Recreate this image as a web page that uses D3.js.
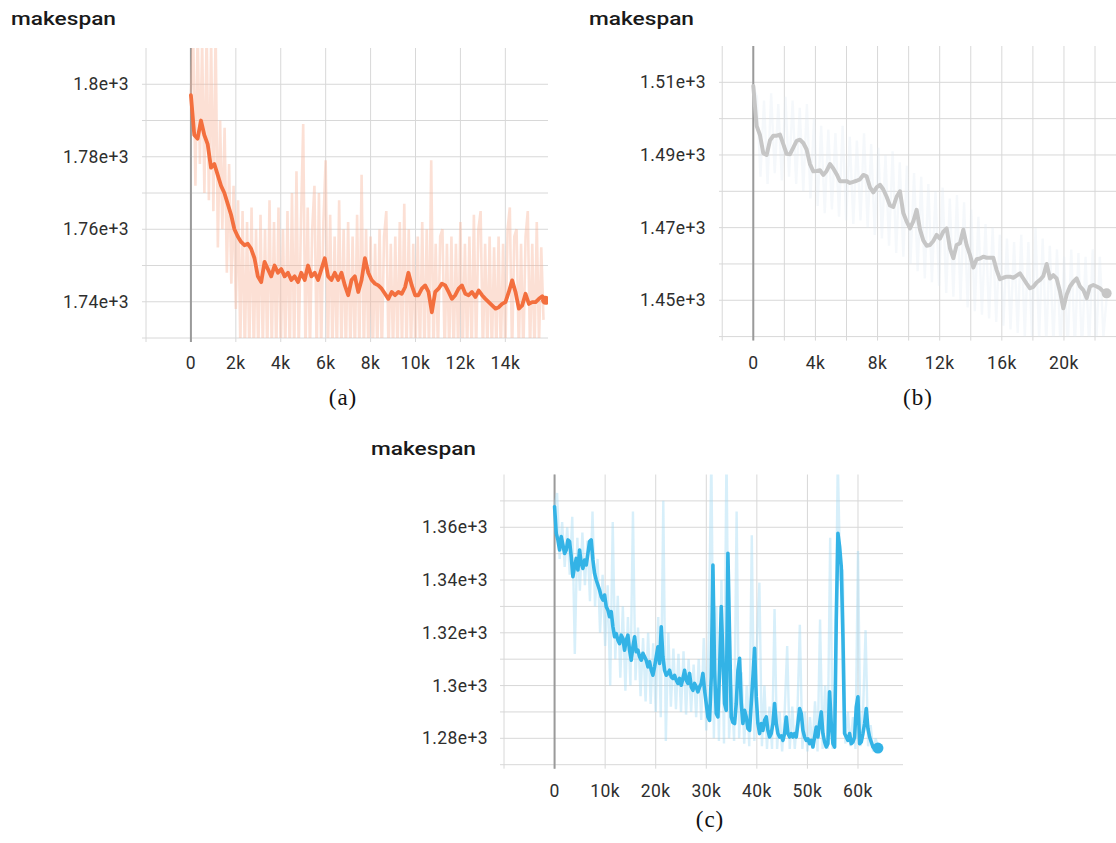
<!DOCTYPE html>
<html>
<head>
<meta charset="utf-8">
<script src="https://cdn.jsdelivr.net/npm/d3@7"></script>
<style>
  body { margin: 0; background: #fff; }
  svg text { font-family: Roboto, "Noto Sans", sans-serif; }
  svg text.caption { font-family: "Liberation Serif", "DejaVu Serif", serif; }
</style>
</head>
<body>
<div id="chart"></div>
<script>
// ---- panel (a): orange run, smoothed every 149 steps, raw every 100 steps
var smoothStepA = 149;
var smoothA = [1797, 1786, 1785, 1790, 1786, 1783.5, 1777,
  1778, 1775, 1772, 1770, 1767, 1764, 1760, 1758, 1756.5, 1755.6,
  1756, 1754.6, 1752, 1747, 1745.4, 1751, 1749, 1747, 1750, 1748,
  1749, 1747, 1748, 1746, 1747, 1745.4, 1748, 1746, 1750, 1747,
  1748, 1746, 1749, 1752, 1747, 1746, 1748, 1746, 1748, 1744.5,
  1741.8, 1746, 1747, 1742.7, 1746, 1752, 1748, 1746, 1745, 1744.5,
  1743.6, 1742.2, 1740.8, 1742.7, 1741.8, 1742.7, 1742.2, 1744, 1748, 1744.5,
  1741.8, 1741.8, 1743.6, 1744.5, 1742.7, 1737.1, 1742.7, 1743.6, 1745, 1744.5,
  1742.7, 1740.8, 1741.8, 1743.6, 1744.5, 1742.2, 1741.8, 1742.7, 1741.3, 1743.1,
  1741.8, 1740.8, 1739.9, 1739, 1738.1, 1738.5, 1739.4, 1739.9, 1742.7, 1745.9,
  1742.7, 1738.1, 1739, 1742.2, 1739.4, 1739.9, 1739.9, 1740.8, 1741.5, 1740.4];
var rawStepA = 100;
var rawA = [1797, 1815, 1772, 1815, 1778, 1812, 1770, 1815, 1768, 1812,
  1765, 1815, 1755, 1790, 1760, 1788, 1748, 1778, 1745, 1772,
  1738, 1768, 1728, 1765, 1725, 1762, 1726, 1766, 1725, 1760,
  1725, 1764, 1727, 1760, 1725, 1768, 1726, 1762, 1725, 1766,
  1725, 1760, 1726, 1765, 1725, 1770, 1725, 1776, 1726, 1762,
  1789, 1725, 1766, 1726, 1760, 1772, 1725, 1770, 1726, 1762,
  1779, 1725, 1764, 1726, 1758, 1725, 1768, 1726, 1760, 1725,
  1762, 1726, 1758, 1725, 1764, 1726, 1775, 1725, 1760, 1726,
  1758, 1725, 1756, 1726, 1760, 1725, 1758, 1765, 1725, 1756,
  1726, 1758, 1725, 1762, 1726, 1767, 1725, 1760, 1726, 1756,
  1725, 1758, 1726, 1762, 1725, 1760, 1726, 1779, 1725, 1756,
  1726, 1758, 1760, 1725, 1756, 1726, 1758, 1725, 1756, 1726,
  1762, 1725, 1756, 1726, 1758, 1725, 1764, 1726, 1760, 1765,
  1725, 1756, 1726, 1758, 1725, 1755, 1726, 1758, 1725, 1756,
  1726, 1760, 1766, 1725, 1758, 1760, 1726, 1756, 1725, 1758,
  1765, 1726, 1756, 1725, 1762, 1728, 1755, 1735];
var xTicksA = [0, 2000, 4000, 6000, 8000, 10000, 12000, 14000];
var xGridA = [-2000, 0, 2000, 4000, 6000, 8000, 10000, 12000, 14000];
var yTicksA = [1740, 1760, 1780, 1800];
var yGridA = [1730, 1740, 1750, 1760, 1770, 1780, 1790, 1800];

// ---- panel (b): grey run, smoothed every 214.6 steps, raw every 230 steps
var smoothStepB = 214.6;
var smoothB = [1509, 1498, 1495.5, 1490.5, 1490, 1494, 1495.3, 1495.3, 1495.6, 1493,
  1490.3, 1490.2, 1492, 1493.9, 1494.2, 1493.3, 1491.5, 1487.5, 1485.5, 1485.6,
  1485.8, 1484.5, 1485.6, 1487.5, 1486.3, 1484.7, 1482.8, 1482.8, 1482.8, 1482.3,
  1482.6, 1482.9, 1483.3, 1484.5, 1484.1, 1481.1, 1479.7, 1481.1, 1481.8, 1480.5,
  1478.5, 1476.1, 1475.7, 1478.5, 1480, 1474, 1471.7, 1469.8, 1471.7, 1474.9,
  1469.5, 1466.5, 1465, 1465.2, 1466.3, 1468, 1467, 1468.9, 1469.8, 1464.3,
  1461.6, 1465.2, 1465.7, 1469.4, 1465.2, 1462.5, 1459, 1461.3, 1461.5, 1462,
  1461.7, 1461.7, 1461.7, 1458.3, 1455.8, 1456.2, 1456.5, 1456.5, 1456.2, 1456.8,
  1457.4, 1456, 1454.6, 1453.3, 1453.7, 1454.9, 1455.6, 1456.7, 1460, 1456,
  1456.9, 1456, 1452.4, 1447.8, 1451.5, 1453.8, 1455.1, 1456, 1453.8, 1452.8,
  1450.6, 1453.8, 1454.2, 1453.8, 1453.3, 1452.4, 1451.9];
var rawStepB = 230;
var rawB = [1509, 1506, 1484, 1505, 1482, 1507, 1485, 1504, 1483, 1506,
  1484, 1505, 1482, 1503, 1480, 1504, 1478, 1500, 1476, 1498,
  1474, 1497, 1475, 1496, 1473, 1498, 1472, 1495, 1471, 1494,
  1472, 1496, 1470, 1493, 1468, 1492, 1467, 1490, 1465, 1491,
  1463, 1488, 1462, 1487, 1460, 1485, 1458, 1484, 1456, 1482,
  1455, 1480, 1454, 1481, 1452, 1478, 1451, 1479, 1450, 1477,
  1448, 1475, 1447, 1473, 1446, 1471, 1445, 1470, 1444, 1468,
  1443, 1467, 1442, 1466, 1441, 1468, 1440, 1466, 1440, 1470,
  1439, 1467, 1438, 1465, 1438, 1464, 1436, 1462, 1436, 1464,
  1437, 1463, 1436, 1462, 1437, 1464, 1438, 1462, 1440, 1452];
var xTicksB = [0, 4000, 8000, 12000, 16000, 20000];
var xGridB = [-2000, 0, 2000, 4000, 6000, 8000, 10000, 12000, 14000, 16000, 18000, 20000, 22000];
var yTicksB = [1450, 1470, 1490, 1510];
var yGridB = [1440, 1450, 1460, 1470, 1480, 1490, 1500, 1510];

// ---- panel (c): blue run, smoothed every 329.6 steps, raw every 500 steps
var smoothStepC = 329.6;
var smoothC = [1367.8, 1357.7, 1355.2, 1351.4, 1356.5, 1353.3, 1350.1, 1351.4, 1355.2, 1354.6,
  1348.9, 1341.3, 1345.1, 1348.2, 1343.8, 1351.4, 1346.3, 1344.4, 1347.6, 1345.7,
  1350.1, 1354.6, 1355.2, 1347.6, 1342.5, 1340, 1338.1, 1336.2, 1333.7, 1332.4,
  1334.3, 1329.9, 1328.6, 1326.1, 1328, 1322.3, 1318.5, 1319.7, 1317.2, 1315.9,
  1319.1, 1317.8, 1313.4, 1317.2, 1319.1, 1313.4, 1309.6, 1314.7, 1318.5, 1312.8,
  1313.4, 1310.9, 1309.6, 1312.2, 1310.9, 1309.6, 1307.1, 1309, 1305.8, 1303.9,
  1307.1, 1310.9, 1314.7, 1308.4, 1322.3, 1310.9, 1305.8, 1303.9, 1304.6, 1305.8,
  1303.3, 1302.7, 1303.9, 1302, 1300.8, 1302.7, 1300.1, 1302.7, 1305.8, 1302,
  1300.8, 1304.6, 1299.5, 1298.2, 1300.8, 1299.5, 1297.6, 1299.5, 1300.8, 1304.6,
  1298.2, 1293.2, 1288.1, 1286.8, 1303.3, 1345.7, 1305.8, 1289.4, 1288.1, 1305.8,
  1329.9, 1310.9, 1293.2, 1290.6, 1350.1,
  1318.5, 1288.1, 1286, 1285.6, 1293.2, 1305.8, 1310.3, 1293.2, 1285.6, 1290.6,
  1288.1, 1283.7, 1283, 1293.2, 1303.3, 1314.1, 1295.7, 1285.6, 1281.8, 1285.6,
  1283, 1286.8, 1288.1, 1283, 1280.5, 1281.8, 1285.6, 1293.2, 1285.6, 1281.8,
  1280.5, 1280.9, 1279.2, 1281.8, 1288.1, 1281.8, 1280.5, 1281.8, 1280.5, 1281.8,
  1280.5, 1285.6, 1291.3, 1289.4, 1283, 1280.5, 1279.2, 1279.8, 1278, 1279.2,
  1276.7, 1280.5, 1284.3, 1280.5, 1285.6, 1290, 1281.8, 1278.6, 1276.7, 1278,
  1297.6, 1285.6, 1278, 1276.7, 1324.8, 1357.7, 1352.7, 1345.1, 1318.5, 1281.8,
  1280.5, 1279.2, 1281.8, 1278, 1278.6, 1280.5, 1291.9, 1295.7, 1278, 1278.6,
  1281.8, 1285.6, 1291.3, 1283.7, 1280.5, 1278.6, 1276.7, 1276.1, 1276.1, 1276.3];
var rawStepC = 500;
var rawC = [1368, 1373, 1348, 1362, 1345, 1360, 1342, 1364, 1312, 1356,
  1336, 1358, 1338, 1355, 1332, 1366, 1330, 1348, 1320, 1342,
  1315, 1338, 1300, 1362, 1310, 1334, 1303, 1330, 1298, 1326,
  1300, 1366, 1302, 1322, 1296, 1318, 1294, 1320, 1293, 1316,
  1290, 1326, 1288, 1370, 1279, 1320, 1292, 1314, 1291, 1312,
  1290, 1313, 1289, 1310, 1290, 1308, 1288, 1310, 1287, 1318,
  1283, 1320, 1388, 1280, 1330, 1279, 1340, 1278, 1390, 1280,
  1300, 1279, 1366, 1280, 1305, 1278, 1300, 1277, 1357, 1279,
  1315, 1339, 1277, 1300, 1276, 1292, 1276, 1329, 1276, 1290,
  1275, 1290, 1315, 1276, 1292, 1276, 1288, 1323, 1276, 1290,
  1275, 1288, 1276, 1294, 1275, 1325, 1276, 1300, 1276, 1356,
  1276, 1300, 1386, 1340, 1344, 1278, 1290, 1277, 1288, 1276,
  1351, 1277, 1290, 1321, 1277, 1285, 1275, 1280, 1276];
var xTicksC = [0, 10000, 20000, 30000, 40000, 50000, 60000];
var xGridC = [-10000, 0, 10000, 20000, 30000, 40000, 50000, 60000];
var yTicksC = [1280, 1300, 1320, 1340, 1360];
var yGridC = [1270, 1280, 1290, 1300, 1310, 1320, 1330, 1340, 1350, 1360, 1370];

var W = 1116, H = 843;
var svg = d3.select("#chart").append("svg")
    .attr("width", W)
    .attr("height", H);

var fmtY = d3.format(".3~e"),
    fmtX = d3.format("~s");

function panel(cfg) {
    var x = d3.scaleLinear().domain(cfg.xDomain).range([cfg.left, cfg.right]),
        y = d3.scaleLinear().domain(cfg.yDomain).range([cfg.bottom, cfg.top]);
    var g = svg.append("g");

    // title
    g.append("text")
        .attr("x", cfg.titleX)
        .attr("y", cfg.titleY)
        .attr("font-size", "18.5px")
        .attr("font-weight", 500)
        .attr("fill", "#1a1a1a")
        .attr("textLength", 105)
        .attr("lengthAdjust", "spacingAndGlyphs")
        .text("makespan");

    // grid
    g.selectAll(".vgrid")
        .data(cfg.xGrid)
        .join("line")
        .attr("class", "vgrid")
        .attr("x1", d => x(d)).attr("x2", d => x(d))
        .attr("y1", cfg.top).attr("y2", cfg.bottom + 4)
        .attr("stroke", "#d8d8d8");
    g.selectAll(".hgrid")
        .data(cfg.yGrid)
        .join("line")
        .attr("class", "hgrid")
        .attr("x1", cfg.left - 4).attr("x2", cfg.right)
        .attr("y1", d => y(d)).attr("y2", d => y(d))
        .attr("stroke", "#d8d8d8");

    // darker line at step 0
    g.append("line")
        .attr("x1", x(0)).attr("x2", x(0))
        .attr("y1", cfg.top).attr("y2", cfg.bottom + 4)
        .attr("stroke", "#9a9a9a")
        .attr("stroke-width", 2);

    var clipId = "clip-" + cfg.name;
    svg.append("clipPath").attr("id", clipId)
        .append("rect")
        .attr("x", cfg.left).attr("y", cfg.top)
        .attr("width", cfg.right - cfg.left)
        .attr("height", cfg.bottom - cfg.top);

    var plot = g.append("g").attr("clip-path", "url(#" + clipId + ")");

    // raw values, thin and pale
    var rawLine = d3.line()
        .x((d, i) => x(i * cfg.rawStep))
        .y(d => y(d));
    plot.append("path")
        .datum(cfg.raw)
        .attr("d", rawLine)
        .attr("fill", "none")
        .attr("stroke", cfg.rawColor)
        .attr("stroke-opacity", cfg.rawOpacity)
        .attr("stroke-width", cfg.rawWidth);

    // smoothed values
    var smoothLine = d3.line()
        .x((d, i) => x(i * cfg.smoothStep))
        .y(d => y(d));
    plot.append("path")
        .datum(cfg.smooth)
        .attr("d", smoothLine)
        .attr("fill", "none")
        .attr("stroke", cfg.color)
        .attr("stroke-width", cfg.lineWidth)
        .attr("stroke-linejoin", "round")
        .attr("stroke-linecap", "round");

    var last = cfg.smooth.length - 1;
    plot.append("circle")
        .attr("cx", x(last * cfg.smoothStep))
        .attr("cy", y(cfg.smooth[last]))
        .attr("r", cfg.dot)
        .attr("fill", cfg.color);

    // tick labels
    g.selectAll(".xlab")
        .data(cfg.xTicks)
        .join("text")
        .attr("class", "xlab")
        .attr("x", d => x(d))
        .attr("y", cfg.xLabelY)
        .attr("text-anchor", "middle")
        .attr("font-size", "17.5px")
        .attr("letter-spacing", "0.4px")
        .attr("fill", "#2e2e2e")
        .text(d => fmtX(d));
    g.selectAll(".ylab")
        .data(cfg.yTicks)
        .join("text")
        .attr("class", "ylab")
        .attr("x", cfg.yLabelX)
        .attr("y", d => y(d))
        .attr("dy", "0.35em")
        .attr("text-anchor", "end")
        .attr("font-size", "17.5px")
        .attr("letter-spacing", "0.4px")
        .attr("fill", "#2e2e2e")
        .text(d => fmtY(d));

    // caption
    g.append("text")
        .attr("class", "caption")
        .attr("x", cfg.capX)
        .attr("y", cfg.capY)
        .attr("text-anchor", "middle")
        .attr("font-size", "23px")
        .attr("letter-spacing", "1px")
        .attr("fill", "#111")
        .text(cfg.caption);
}

panel({
    name: "a", left: 146, right: 548, top: 48, bottom: 338,
    xDomain: [-2000, 15900], yDomain: [1730, 1810],
    xGrid: xGridA, yGrid: yGridA, xTicks: xTicksA, yTicks: yTicksA,
    smooth: smoothA, smoothStep: smoothStepA, raw: rawA, rawStep: rawStepA,
    color: "#f36f3e", rawColor: "#f7b59b", rawOpacity: 0.42, rawWidth: 2.6, lineWidth: 3.8, dot: 4.5,
    titleX: 11, titleY: 25, xLabelY: 369, yLabelX: 129,
    caption: "(a)", capX: 343, capY: 405
});

panel({
    name: "b", left: 723, right: 1116, top: 46, bottom: 336.6,
    xDomain: [-1950, 23350], yDomain: [1440, 1520],
    xGrid: xGridB, yGrid: yGridB, xTicks: xTicksB, yTicks: yTicksB,
    smooth: smoothB, smoothStep: smoothStepB, raw: rawB, rawStep: rawStepB,
    color: "#c6c6c6", rawColor: "#dbe6f2", rawOpacity: 0.28, rawWidth: 2.4, lineWidth: 4, dot: 5,
    titleX: 589, titleY: 25, xLabelY: 369, yLabelX: 706,
    caption: "(b)", capX: 918, capY: 405
});

panel({
    name: "c", left: 504, right: 903, top: 474.5, bottom: 764.7,
    xDomain: [-10000, 68900], yDomain: [1270, 1380],
    xGrid: xGridC, yGrid: yGridC, xTicks: xTicksC, yTicks: yTicksC,
    smooth: smoothC, smoothStep: smoothStepC, raw: rawC, rawStep: rawStepC,
    color: "#33b3e6", rawColor: "#9fd8f3", rawOpacity: 0.42, rawWidth: 2.4, lineWidth: 3.6, dot: 5.5,
    titleX: 371, titleY: 455, xLabelY: 797, yLabelX: 488,
    caption: "(c)", capX: 710, capY: 827
});
</script>
</body>
</html>
